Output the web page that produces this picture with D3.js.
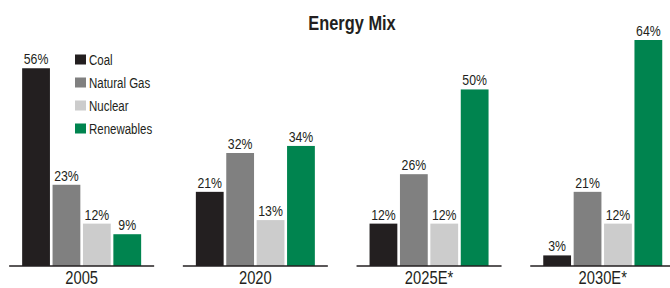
<!DOCTYPE html>
<html><head><meta charset="utf-8">
<script src="https://cdn.jsdelivr.net/npm/d3@7"></script>
<style>
body{margin:0;background:#fff;}
svg{display:block;font-family:"Liberation Sans",Arial,sans-serif;}
</style></head>
<body><svg id="c" width="670" height="288"></svg>
<script>
const years = ["2005", "2020", "2025E*", "2030E*"];
const series = ["Coal", "Natural Gas", "Nuclear", "Renewables"];
const coal = [56, 21, 12, 3];
const naturalGas = [23, 32, 26, 21];
const nuclear = [12, 13, 12, 12];
const renewables = [9, 34, 50, 64];
const colors = ["#231f20", "#808080", "#cccccc", "#00844f"];
const title = "Energy Mix";

const values = [coal, naturalGas, nuclear, renewables];
const svg = d3.select("#c");
const ink = "#231f20";
const SX = 0.82; // condensed look

function narrow(sel, xf, yf) {
  return sel.attr("transform", (d, i) => `translate(${xf(d, i)},${yf(d, i)}) scale(${SX},1)`);
}

const x0 = d3.scaleBand().domain(years).range([-5.2, 689.6]).padding(0);
const groupW = 119;
const x1 = d3.scaleBand().domain(series).range([0, groupW]).paddingInner(0.086).paddingOuter(0);
const y = d3.scaleLinear().domain([0, 64]).range([266, 40]);
const color = d3.scaleOrdinal().domain(series).range(colors);

svg.append("text").attr("text-anchor", "middle")
  .attr("transform", `translate(352,30) scale(${SX},1)`)
  .attr("font-size", 20).attr("font-weight", "bold").attr("fill", ink).text(title);

const g = svg.selectAll("g.panel").data(years).join("g").attr("class", "panel")
  .attr("transform", d => `translate(${x0(d) + x0.bandwidth() / 2},0)`);

g.each(function(yr, i) {
  const p = d3.select(this);
  const data = series.map((s, j) => ({s, v: values[j][i]}));
  const gb = p.append("g").attr("transform", `translate(${-groupW / 2},0)`);
  gb.selectAll("rect").data(data).join("rect")
    .attr("x", d => x1(d.s)).attr("width", x1.bandwidth())
    .attr("y", d => y(d.v)).attr("height", d => y(0) - y(d.v))
    .attr("fill", d => color(d.s));
  narrow(gb.selectAll("text").data(data).join("text"),
      d => x1(d.s) + x1.bandwidth() / 2, d => y(d.v) - 4)
    .attr("text-anchor", "middle").attr("font-size", 15).attr("fill", ink)
    .text(d => d.v + "%");
  p.append("line").attr("x1", -72.5).attr("x2", 72.5).attr("y1", y(0)).attr("y2", y(0))
    .attr("stroke", ink).attr("stroke-width", 1.5);
  p.append("text").attr("transform", `translate(0,284) scale(${SX},1)`).attr("text-anchor", "middle")
    .attr("font-size", 18).attr("fill", ink).text(yr);
});

const lg = svg.append("g").attr("transform", "translate(75,0)");
const rows = lg.selectAll("g").data(series).join("g")
  .attr("transform", (d, i) => `translate(0,${59.5 + i * 23})`);
rows.append("rect").attr("x", 0).attr("y", -5).attr("width", 11).attr("height", 10)
  .attr("fill", d => color(d));
rows.append("text").attr("transform", `translate(14,5) scale(${SX},1)`)
  .attr("font-size", 14).attr("fill", ink).text(d => d);
</script></body></html>
